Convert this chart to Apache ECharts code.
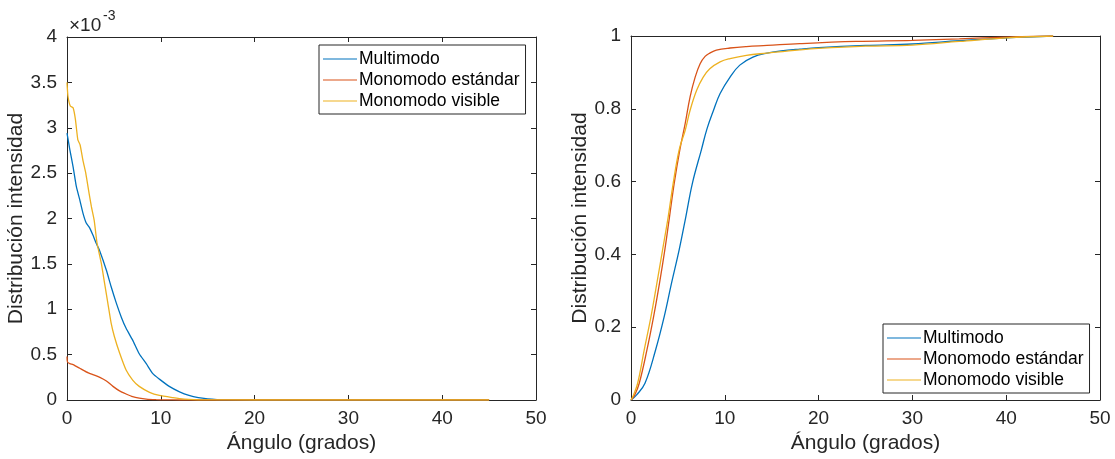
<!DOCTYPE html>
<html>
<head>
<meta charset="utf-8">
<script src="https://cdn.jsdelivr.net/npm/echarts@6/dist/echarts.min.js"></script>
<style>
html,body{margin:0;padding:0;background:#fff;}
#c{width:1115px;height:459px;}
</style>
</head>
<body>
<div id="c"></div>
<script>
// ---- Data (left: intensity distribution, in units of 1e-3) ----
const seriesNames = ['Multimodo', 'Monomodo estándar', 'Monomodo visible'];
const xTicks = [0, 10, 20, 30, 40, 50];

const densMultiX = [0, 0.3, 0.65, 1.0, 1.35, 1.7, 2.05, 2.4, 2.75, 3.1, 3.5, 4.2, 4.7, 5.25, 5.8, 6.3, 7.0, 7.7, 8.45, 9.15, 9.85, 10.9, 12, 13, 14, 15, 16, 17, 20, 30, 45];
const densMultiY = [2.94, 2.76, 2.57, 2.35, 2.21, 2.06, 1.95, 1.90, 1.82, 1.73, 1.64, 1.43, 1.25, 1.07, 0.91, 0.79, 0.66, 0.51, 0.40, 0.29, 0.23, 0.15, 0.09, 0.05, 0.025, 0.012, 0.005, 0.002, 0, 0, 0];

const densStdX = [0, 0.05, 0.3, 0.65, 1.35, 2.05, 2.75, 3.5, 4.2, 4.9, 5.6, 6.3, 7.0, 7.7, 8.45, 9.5, 10.5, 12, 20, 30, 45];
const densStdY = [0.48, 0.42, 0.40, 0.39, 0.35, 0.31, 0.28, 0.25, 0.21, 0.15, 0.10, 0.066, 0.036, 0.02, 0.01, 0.004, 0.001, 0, 0, 0, 0];

const densVisX = [0, 0.1, 0.35, 0.65, 0.9, 1.15, 1.4, 1.7, 2.0, 2.35, 2.6, 2.9, 3.2, 3.65, 4.0, 4.35, 4.7, 5.05, 5.6, 6.3, 7.0, 7.7, 8.8, 9.85, 11.3, 12, 13, 14, 20, 30, 45];
const densVisY = [3.5, 3.35, 3.24, 3.22, 3.09, 2.87, 2.81, 2.64, 2.5, 2.28, 2.13, 1.98, 1.73, 1.51, 1.29, 1.07, 0.85, 0.70, 0.52, 0.33, 0.22, 0.15, 0.085, 0.05, 0.025, 0.015, 0.006, 0.002, 0, 0, 0];

// ---- Data (right: cumulative distribution) ----
const cumMultiX = [0, 0.6, 1.49, 2.62, 3.54, 4.32, 5.14, 5.85, 6.55, 7.51, 8.1, 8.8, 9.5, 10.56, 11.6, 13, 14.5, 16, 18, 20, 25, 30, 35, 40, 45];
const cumMultiY = [0, 0.014, 0.046, 0.1375, 0.229, 0.321, 0.413, 0.504, 0.596, 0.688, 0.745, 0.796, 0.842, 0.887, 0.92, 0.942, 0.953, 0.959, 0.964, 0.968, 0.974, 0.978, 0.987, 0.995, 1.0];

const cumStdX = [0, 0.4, 0.88, 1.7, 2.41, 3.04, 3.61, 4.11, 4.61, 5.21, 5.78, 6.3, 6.84, 7.37, 7.9, 8.4, 9.1, 10.56, 12.3, 14.5, 18, 24, 30, 35, 40, 45];
const cumStdY = [0, 0.014, 0.046, 0.1375, 0.229, 0.321, 0.413, 0.504, 0.596, 0.688, 0.76, 0.833, 0.887, 0.924, 0.944, 0.953, 0.961, 0.967, 0.971, 0.974, 0.979, 0.985, 0.988, 0.992, 0.997, 1.0];

const cumVisX = [0, 0.27, 0.71, 1.41, 2.13, 2.76, 3.37, 3.97, 4.5, 5.14, 5.78, 6.3, 7.0, 7.7, 8.4, 9.5, 10.56, 12.3, 14.5, 18, 20, 25, 30, 35, 40, 45];
const cumVisY = [0, 0.014, 0.046, 0.1375, 0.229, 0.321, 0.413, 0.504, 0.596, 0.688, 0.741, 0.796, 0.851, 0.887, 0.91, 0.929, 0.938, 0.947, 0.953, 0.962, 0.966, 0.972, 0.975, 0.985, 0.995, 1.0];

const colors = ['#0072BD', '#D95319', '#EDB120'];
const FONT = '"Liberation Sans", Arial, Helvetica, sans-serif';
const AX = '#262626';

function pairs(xs, ys) { return xs.map((x, i) => [x, ys[i]]); }

function xAx(grid, pos, show) {
  return {
    type: 'value', gridIndex: grid, position: pos, min: 0, max: 50, interval: 10,
    axisLine: { show: true, onZero: false, lineStyle: { color: AX, width: 1 } },
    axisTick: { show: true, inside: true, length: 5, lineStyle: { color: AX } },
    axisLabel: { show: show, fontSize: 19, color: AX, fontFamily: FONT, margin: 9 },
    splitLine: { show: false },
    name: show ? 'Ángulo (grados)' : '', nameLocation: 'middle', nameGap: 31,
    nameTextStyle: { fontSize: 21, color: AX, fontFamily: FONT }
  };
}
function yAx(grid, pos, show, max, interval) {
  return {
    type: 'value', gridIndex: grid, position: pos, min: 0, max: max, interval: interval,
    axisLine: { show: true, onZero: false, lineStyle: { color: AX, width: 1 } },
    axisTick: { show: true, inside: true, length: 5, lineStyle: { color: AX } },
    axisLabel: { show: show, fontSize: 19, color: AX, fontFamily: FONT, margin: 10 },
    splitLine: { show: false },
    name: show ? 'Distribución intensidad' : '', nameLocation: 'middle', nameGap: 37,
    nameRotate: 90,
    nameTextStyle: { fontSize: 21, color: AX, fontFamily: FONT }
  };
}
function line(name, data, xi, yi, color, smooth) {
  return {
    name: name, type: 'line', data: data, xAxisIndex: xi, yAxisIndex: yi,
    showSymbol: false, symbol: 'none', smooth: smooth,
    lineStyle: { color: color, width: 1.3 }, itemStyle: { color: color }
  };
}
function legend(left, top) {
  return {
    data: seriesNames, left: left, top: top, orient: 'vertical',
    padding: [4, 6, 3, 4], itemWidth: 34, itemHeight: 1.2, itemGap: 1, icon: 'rect',
    textStyle: { fontSize: 17.5, color: '#000', fontFamily: FONT, lineHeight: 20, padding: [0, 0, 0, -3] },
    backgroundColor: '#fff', borderColor: AX, borderWidth: 1, borderRadius: 0,
    selectedMode: false
  };
}

const chart = echarts.init(document.getElementById('c'), null, { renderer: 'canvas' });
chart.setOption({
  animation: false,
  backgroundColor: '#fff',
  textStyle: { fontFamily: FONT },
  grid: [
    { left: 67, top: 37, width: 469, height: 363 },
    { left: 631, top: 36, width: 469, height: 364 }
  ],
  xAxis: [xAx(0, 'bottom', true), xAx(0, 'top', false), xAx(1, 'bottom', true), xAx(1, 'top', false)],
  yAxis: [yAx(0, 'left', true, 4, 0.5), yAx(0, 'right', false, 4, 0.5), yAx(1, 'left', true, 1, 0.2), yAx(1, 'right', false, 1, 0.2)],
  legend: [legend(319, 45), legend(883, 324)],
  graphic: [
    { type: 'text', left: 69, top: 16, style: { text: '×10', fontSize: 19, fill: AX, fontFamily: FONT } },
    { type: 'text', left: 103, top: 9, style: { text: '-3', fontSize: 14, fill: AX, fontFamily: FONT } }
  ],
  series: [
    line(seriesNames[0], pairs(densMultiX, densMultiY), 0, 0, colors[0], 0.2),
    line(seriesNames[1], pairs(densStdX, densStdY), 0, 0, colors[1], 0.2),
    line(seriesNames[2], pairs(densVisX, densVisY), 0, 0, colors[2], 0.15),
    line(seriesNames[0], pairs(cumMultiX, cumMultiY), 2, 2, colors[0], 0.4),
    line(seriesNames[1], pairs(cumStdX, cumStdY), 2, 2, colors[1], 0.4),
    line(seriesNames[2], pairs(cumVisX, cumVisY), 2, 2, colors[2], 0.4)
  ]
});
</script>
</body>
</html>
